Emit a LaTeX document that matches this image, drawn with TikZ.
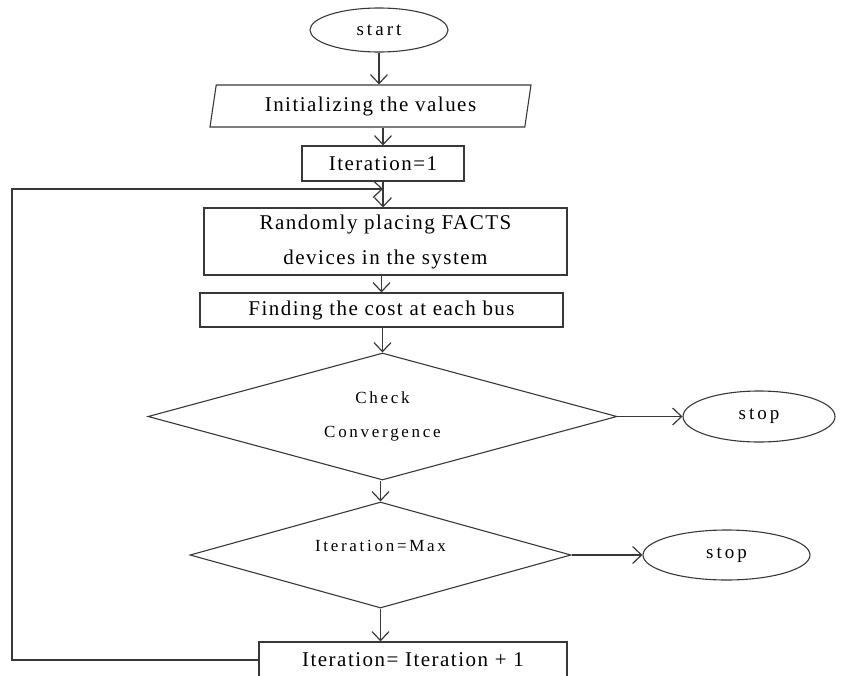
\documentclass[tikz,border=0pt]{standalone}
\usepackage{fontspec}
\setmainfont{Liberation Serif}
\usepackage{xcolor}
\usepackage{tikz}
\usetikzlibrary{shapes.geometric,arrows.meta}
\definecolor{flowline}{rgb}{0.22,0.22,0.22}
\newfontfamily\boxfont[LetterSpace=7]{Liberation Serif}
\newfontfamily\decidefont[LetterSpace=16]{Liberation Serif}

\begin{document}
\begin{tikzpicture}[x=1pt,y=-1pt,
    box/.style={draw=flowline, line width=1.1pt, rectangle, inner sep=0pt, align=center,
        font=\boxfont\fontsize{21}{35}\selectfont},
    term/.style={draw=flowline, line width=1.1pt, ellipse, inner sep=0pt,
        font=\decidefont\fontsize{19}{22}\selectfont},
    decide/.style={draw=flowline, line width=1.1pt, diamond, inner sep=0pt, align=center,
        shape aspect=3.6, font=\decidefont\fontsize{17}{34}\selectfont},
    flow/.style={draw=flowline, line width=1.2pt, -{Straight Barb[length=9pt,width=17pt]}}]
        \useasboundingbox (0,0) rectangle (841,675);

        % Start and input
        \node[term, minimum width=138pt, minimum height=44pt] (start) at (379,30) {start};
        \node[box, trapezium, trapezium left angle=72, trapezium right angle=108,
            trapezium stretches body, minimum width=321pt, minimum height=42pt] (init) at (370.5,106) {Initializing the values};
        \node[box, minimum width=162pt, minimum height=35pt] (iterone) at (383,163.5) {Iteration=1};

        % Placing and cost
        \node[box, minimum width=363pt, minimum height=67pt] (place) at (385.5,241.5) {Randomly placing FACTS\\devices in the system};
        \node[box, minimum width=363pt, minimum height=34pt] (cost) at (381.5,310) {Finding the cost at each bus};

        % Decisions
        \node[decide, minimum width=469pt, minimum height=127pt] (conv) at (382.5,416.5) {Check\\Convergence};
        \node[term, minimum width=152pt, minimum height=51pt] (stopa) at (759,416.5) {stop};
        \node[decide, minimum width=381pt, minimum height=106pt, text depth=18pt] (itermax) at (380.5,555) {Iteration=Max};
        \node[term, minimum width=167pt, minimum height=50pt] (stopb) at (726.5,555) {stop};
        \node[box, minimum width=308pt, minimum height=36pt] (incr) at (413,660) {Iteration= Iteration + 1};

        % Loop back points
        \coordinate (loopin) at (383,189);
        \coordinate (loopleft) at (12,189);

        % Connection arrows
        \draw[flow] (start.south) -- (start.south |- init.north);
        \draw[flow] (iterone.north |- init.south) -- (iterone.north);
        \draw[flow] (iterone.south) -- (iterone.south |- place.north);
        \draw[flow] (cost.north |- place.south) -- (cost.north);
        \draw[flow] (conv.north |- cost.south) -- (conv.north);
        \draw[flow] (itermax.north |- conv.south) -- (itermax.north);
        \draw[flow] (itermax.south) -- (itermax.south |- incr.north);
        \draw[flow] (conv.east) -- (stopa.west);
        \draw[flow] (itermax.east) -- (stopb.west);
        \draw[flow] (incr.west) -| (loopleft) -- (loopin);
    \end{tikzpicture}
\end{document}
